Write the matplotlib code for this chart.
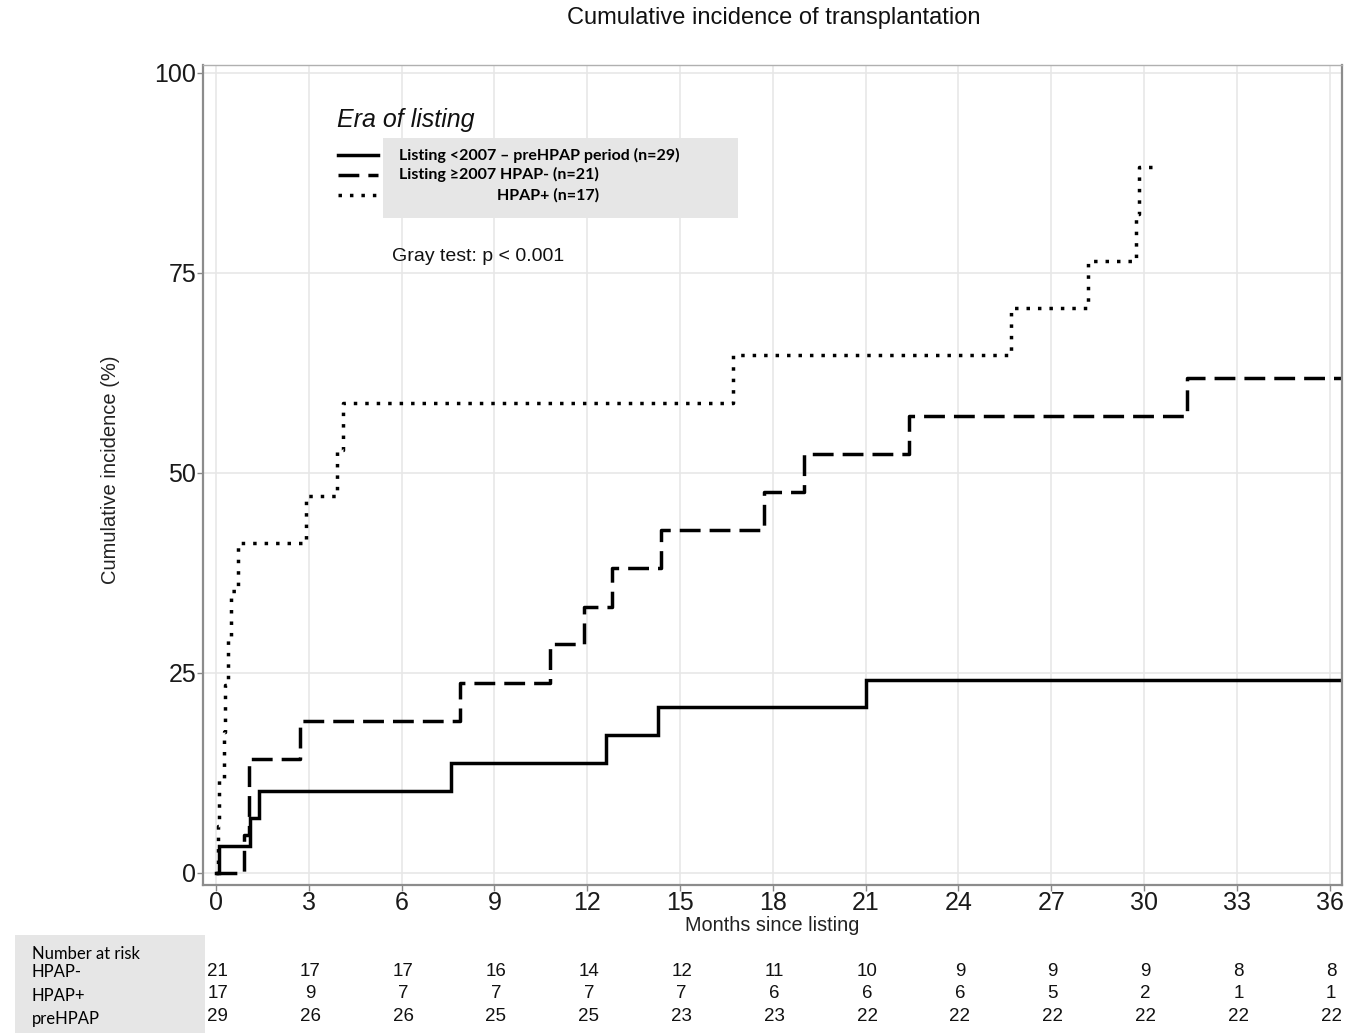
import numpy as np
import matplotlib
matplotlib.use("Agg")
import matplotlib.pyplot as plt
import matplotlib.transforms as mtransforms
from matplotlib.patches import Rectangle

# step data (months, cumulative incidence %)
t_pre = [0, 0.08, 1.1, 1.4, 7.6, 12.6, 14.3, 21.0, 36.5]
ci_pre = [0, 3.4, 6.9, 10.3, 13.8, 17.2, 20.7, 24.1, 24.1]

t_neg = [0, 0.9, 1.05, 2.7, 7.9, 10.8, 11.9, 12.8, 14.4, 17.7, 19.0, 22.4, 31.4, 36.5]
ci_neg = [0, 4.8, 14.3, 19.0, 23.8, 28.6, 33.3, 38.1, 42.9, 47.6, 52.4, 57.1, 61.9, 61.9]

t_pos = [0, 0.07, 0.1, 0.26, 0.3, 0.38, 0.5, 0.7, 2.9, 3.9, 4.1, 16.7, 25.7, 28.2, 29.75, 29.85, 30.3]
ci_pos = [0, 5.9, 11.8, 17.6, 23.5, 29.4, 35.3, 41.2, 47.1, 52.9, 58.8, 64.7, 70.6, 76.5, 82.4, 88.2, 88.2]

# number at risk table
risk_times = [0, 3, 6, 9, 12, 15, 18, 21, 24, 27, 30, 33, 36]
risk_neg = [21, 17, 17, 16, 14, 12, 11, 10, 9, 9, 9, 8, 8]
risk_pos = [17, 9, 7, 7, 7, 7, 6, 6, 6, 5, 2, 1, 1]
risk_pre = [29, 26, 26, 25, 25, 23, 23, 22, 22, 22, 22, 22, 22]
risk_rows = ["HPAP-", "HPAP+", "preHPAP"]

plt.rcParams['font.family'] = ['Liberation Sans', 'DejaVu Sans']

fig = plt.figure(figsize=(13.59, 10.33), dpi=100)
ax = fig.add_axes([0.1494, 0.1433, 0.8381, 0.7938])

lw = 2.5
ax.step(t_pre, ci_pre, where='post', color='black', lw=lw, solid_joinstyle='miter')
ax.step(t_neg, ci_neg, where='post', color='black', lw=lw, dashes=(6, 2.6))
ax.step(t_pos, ci_pos, where='post', color='black', lw=lw, dashes=(1, 2.3))

ax.set_xlim(-0.42, 36.4)
ax.set_ylim(-1.5, 101)
ax.set_xticks(range(0, 37, 3))
ax.set_yticks([0, 25, 50, 75, 100])
ax.grid(True, color='#e6e6e6', lw=1.1)
ax.set_axisbelow(True)
ax.tick_params(labelsize=18, length=4, color='#888888', width=1, pad=1, labelcolor='#1a1a1a')
ax.tick_params(axis='x', pad=0)

for side in ['left', 'bottom', 'right']:
    ax.spines[side].set_color('#8c8c8c')
    ax.spines[side].set_linewidth(1.6)
ax.spines['top'].set_color('#b0b0b0')
ax.spines['top'].set_linewidth(1.0)

ax.set_xlabel("Months since listing", fontsize=14.3, color='#222222', labelpad=1)
ax.set_ylabel("Cumulative incidence (%)", fontsize=14.5, color='#222222')
ax.yaxis.set_label_coords(-0.073, 0.506)

fig.text(0.569, 0.9826, "Cumulative incidence of transplantation", ha='center', va='center',
         fontsize=17, color='#111111')

# legend drawn by hand
ax.text(0.1176, 0.933, "Era of listing", transform=ax.transAxes, fontsize=18, style='italic',
        ha='left', va='center', color='#111111')
ax.add_patch(Rectangle((0.158, 0.813), 0.312, 0.098, transform=ax.transAxes,
                       facecolor='#e6e6e6', edgecolor='none', zorder=3))
leg_y = [0.890, 0.866, 0.841]
ax.plot([0.1185, 0.1536], [leg_y[0]] * 2, transform=ax.transAxes, color='black', lw=lw, zorder=4)
ax.plot([0.1185, 0.1536], [leg_y[1]] * 2, transform=ax.transAxes, color='black', lw=lw,
        dashes=(6, 2.6), zorder=4)
ax.plot([0.1185, 0.1536], [leg_y[2]] * 2, transform=ax.transAxes, color='black', lw=lw,
        dashes=(1, 2.3), zorder=4)
leg_font = ['Lato', 'DejaVu Sans']
ax.text(0.172, leg_y[0], "Listing <2007 \u2013 preHPAP period (n=29)", transform=ax.transAxes,
        fontsize=11.5, fontweight='bold', family=leg_font, va='center', zorder=5)
ax.text(0.172, leg_y[1], "Listing \u22652007 HPAP- (n=21)", transform=ax.transAxes,
        fontsize=11.5, fontweight='bold', family=leg_font, va='center', zorder=5)
ax.text(0.258, leg_y[2], "HPAP+ (n=17)", transform=ax.transAxes,
        fontsize=11.5, fontweight='bold', family=leg_font, va='center', zorder=5)

ax.text(0.166, 0.767, "Gray test: p < 0.001", transform=ax.transAxes, fontsize=14,
        va='center', ha='left', color='#111111')

# number at risk table
fig.patches.append(Rectangle((0.011, 0.0), 0.140, 0.0949, transform=fig.transFigure,
                             facecolor='#e6e6e6', edgecolor='none'))
tab_font = ['Lato', 'DejaVu Sans']
fig.text(0.0235, 0.0765, "Number at risk", fontsize=12, family=tab_font, va='center')
row_y = [0.0591, 0.0358, 0.0140]
for name, yy in zip(risk_rows, row_y):
    fig.text(0.0235, yy, name, fontsize=12, family=tab_font, va='center')

trans = mtransforms.blended_transform_factory(ax.transData, fig.transFigure)
for vals, yy in zip([risk_neg, risk_pos, risk_pre], [0.0600, 0.0378, 0.0155]):
    for tt, v in zip(risk_times, vals):
        fig.text(tt + 0.05, yy, str(v), transform=trans, fontsize=13.5, ha='center',
                 va='center', color='#111111')

fig.savefig("out.png", dpi=100)
